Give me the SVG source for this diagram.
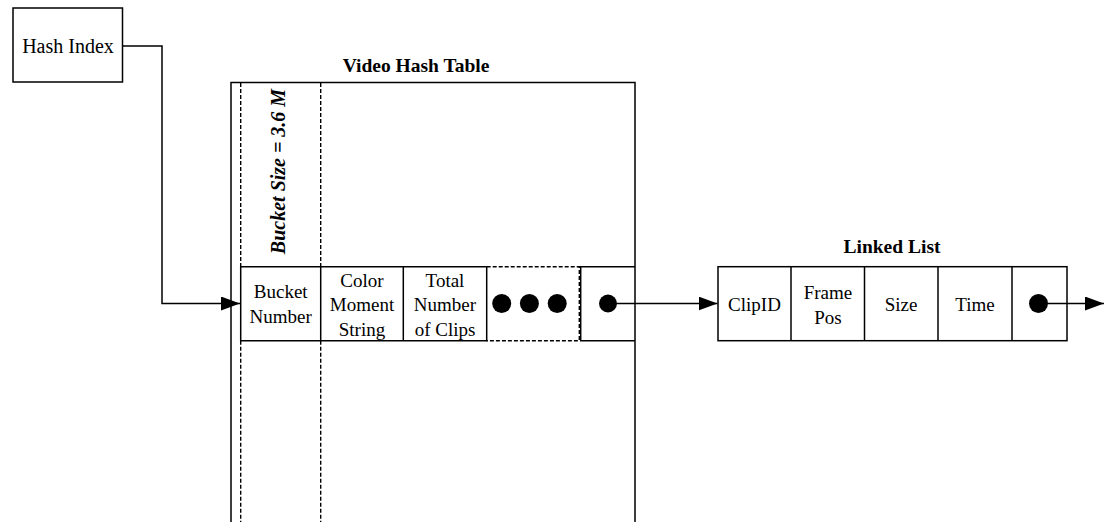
<svg xmlns="http://www.w3.org/2000/svg" width="1108" height="522" viewBox="0 0 1108 522">
  <style>
    .box { fill: #fff; stroke: #000; stroke-width: 1.5; }
    .ln { fill: none; stroke: #000; stroke-width: 1.5; }
    .dash { fill: none; stroke: #000; stroke-width: 1.4; stroke-dasharray: 4 2; }
    .t { font-family: "Liberation Serif", "Times New Roman", serif; font-size: 19px; fill: #000; text-anchor: middle; }
    .title { font-family: "Liberation Serif", "Times New Roman", serif; font-size: 19.5px; font-weight: bold; fill: #000; text-anchor: middle; }
    .dot { fill: #000; }
  </style>
  <defs>
    <marker id="arrow" markerUnits="userSpaceOnUse" markerWidth="19" markerHeight="14" refX="19" refY="7" orient="auto">
      <path d="M0,0 L19,7 L0,14 z" fill="#000"/>
    </marker>
  </defs>
  <rect width="1108" height="522" fill="#fff"/>

  <!-- hash index input -->
  <g id="hash-index">
    <rect class="box" x="13" y="8" width="109.5" height="74"/>
    <text class="t" x="68" y="52.5" style="font-size:20px">Hash Index</text>
  </g>

  <!-- video hash table -->
  <g id="video-hash-table">
    <text class="title" x="416" y="72">Video Hash Table</text>
    <path class="ln" d="M231,530 V82.5 H635 V530"/>
    <!-- bucket column guides -->
    <line class="dash" x1="240.7" y1="83" x2="240.7" y2="266.7"/>
    <line class="dash" x1="320.7" y1="83" x2="320.7" y2="266.7"/>
    <line class="dash" x1="240.7" y1="340.7" x2="240.7" y2="530"/>
    <line class="dash" x1="320.7" y1="340.7" x2="320.7" y2="530"/>
    <text x="0" y="0" transform="translate(284.5,171.5) rotate(-90)" style="font-family:'Liberation Serif','Times New Roman',serif;font-size:20px;font-weight:bold;font-style:italic;text-anchor:middle">Bucket Size = 3.6 M</text>
  </g>

  <!-- bucket entry row -->
  <g id="bucket-entry">
    <path class="ln" d="M486.7,266.7 H240.7 V340.7 H486.7 V266.7"/>
    <line class="ln" x1="320.7" y1="266.7" x2="320.7" y2="340.7"/>
    <line class="ln" x1="403.3" y1="266.7" x2="403.3" y2="340.7"/>
    <path class="dash" d="M486.7,266.7 H579.3 V340.7 H486.7"/>
    <path class="ln" d="M635,266.7 H580.7 V340.7 H635"/>
    <text class="t" x="280.7" y="298">Bucket</text>
    <text class="t" x="280.7" y="322.5">Number</text>
    <text class="t" x="362" y="286.5">Color</text>
    <text class="t" x="362" y="311">Moment</text>
    <text class="t" x="362" y="335.5">String</text>
    <text class="t" x="445" y="286.5">Total</text>
    <text class="t" x="445" y="311">Number</text>
    <text class="t" x="445" y="335.5">of Clips</text>
    <circle class="dot" cx="501.7" cy="303.5" r="9.5"/>
    <circle class="dot" cx="529.4" cy="303.5" r="9.5"/>
    <circle class="dot" cx="557.2" cy="303.5" r="9.5"/>
    <circle class="dot" cx="608" cy="303.5" r="9"/>
  </g>

  <!-- linked list node -->
  <g id="linked-list">
    <text class="title" x="892" y="252.7">Linked List</text>
    <rect class="box" x="718" y="266.7" width="349" height="74"/>
    <line class="ln" x1="791" y1="266.7" x2="791" y2="340.7"/>
    <line class="ln" x1="864.5" y1="266.7" x2="864.5" y2="340.7"/>
    <line class="ln" x1="938" y1="266.7" x2="938" y2="340.7"/>
    <line class="ln" x1="1012" y1="266.7" x2="1012" y2="340.7"/>
    <text class="t" x="754.5" y="311">ClipID</text>
    <text class="t" x="828" y="299">Frame</text>
    <text class="t" x="828" y="323.5">Pos</text>
    <text class="t" x="901" y="311">Size</text>
    <text class="t" x="975" y="311">Time</text>
    <circle class="dot" cx="1038.5" cy="303.5" r="9.5"/>
  </g>

  <!-- connectors -->
  <g id="connectors">
    <path class="ln" d="M122.5,46 H162 V303.5 H240" marker-end="url(#arrow)"/>
    <line class="ln" x1="608" y1="303.5" x2="717.5" y2="303.5" marker-end="url(#arrow)"/>
    <line class="ln" x1="1038.5" y1="303.5" x2="1104" y2="303.5" marker-end="url(#arrow)"/>
  </g>
</svg>
